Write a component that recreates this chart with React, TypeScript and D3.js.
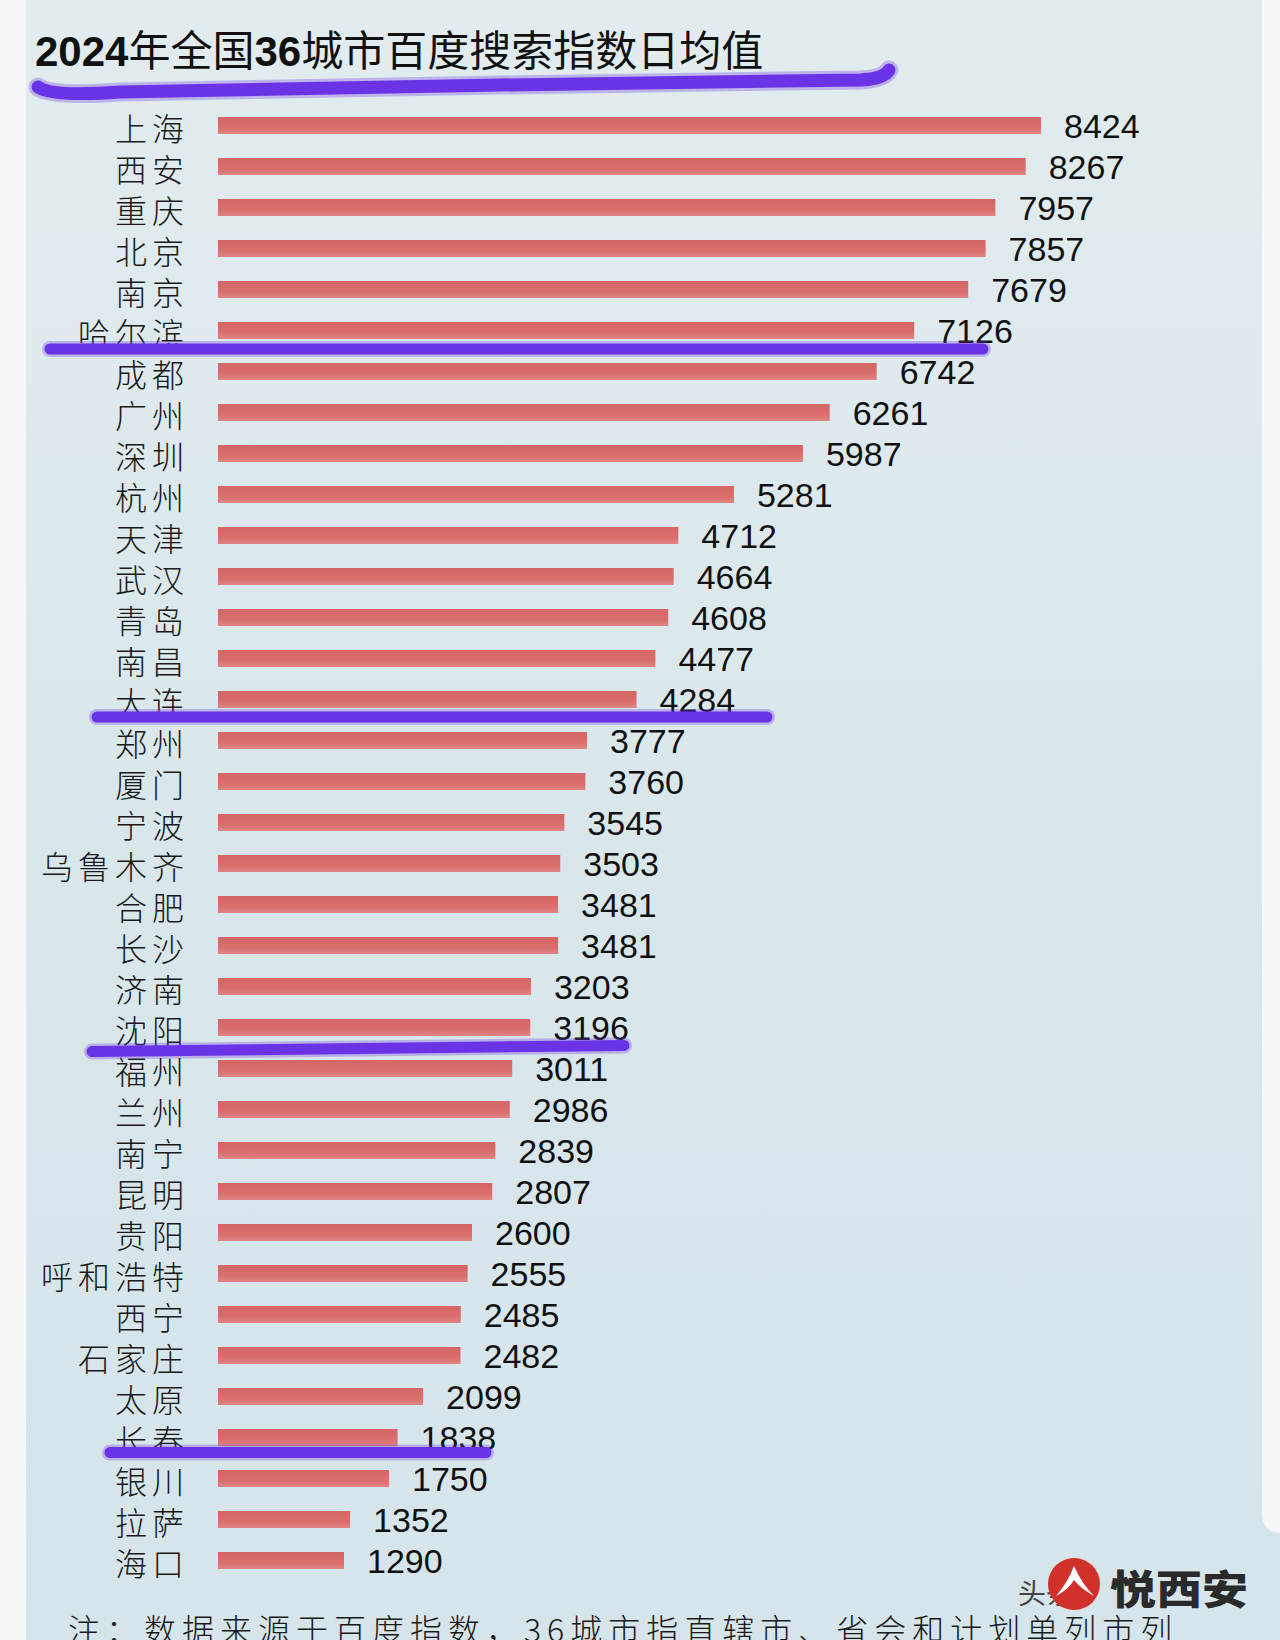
import React from "react";
import * as d3 from "d3";

const cities = ['上海','西安','重庆','北京','南京','哈尔滨','成都','广州','深圳','杭州','天津','武汉','青岛','南昌','大连','郑州','厦门','宁波','乌鲁木齐','合肥','长沙','济南','沈阳','福州','兰州','南宁','昆明','贵阳','呼和浩特','西宁','石家庄','太原','长春','银川','拉萨','海口'];
const values = [8424,8267,7957,7857,7679,7126,6742,6261,5987,5281,4712,4664,4608,4477,4284,3777,3760,3545,3503,3481,3481,3203,3196,3011,2986,2839,2807,2600,2555,2485,2482,2099,1838,1750,1352,1290];

const titleParts = [
  { t: "2024", bold: true },
  { t: "年全国", bold: false },
  { t: "36", bold: true },
  { t: "城市百度搜索指数日均值", bold: false },
];
const footnote = "注：数据来源于百度指数，36城市指直辖市、省会和计划单列市列";

// hand-drawn purple marks below these rows
const marks = [
  { city: "哈尔滨", x0: 50, x1: 983, dy: 18.5 },
  { city: "大连", x0: 97, x1: 767, dy: 17.5 },
  { city: "沈阳", x0: 92, x1: 624, dy: 21 },
  { city: "长春", x0: 110, x1: 486, dy: 15 },
];

const W = 1280;
const H = 1640;

export default function App() {
  const x = d3.scaleLinear().domain([0, 8424]).range([218, 1041]);
  const y = d3.scalePoint<string>().domain(cities).range([125.5, 1560.5]);
  const barH = 17;
  const cjk = '"Noto Sans CJK SC", "Noto Sans", sans-serif';
  const num = '"Liberation Sans", Arial, sans-serif';
  const purple = "#6a33e6";

  return (
    <svg width={W} height={H} style={{ position: "absolute", left: 0, top: 0 }}>
      <defs>
        <linearGradient id="bg" x1="0" y1="0" x2="0" y2="1">
          <stop offset="0" stopColor="#e2ecef" />
          <stop offset="0.5" stopColor="#d9e7eb" />
          <stop offset="1" stopColor="#d6e5ea" />
        </linearGradient>
        <linearGradient id="bar" x1="0" y1="0" x2="0" y2="1">
          <stop offset="0" stopColor="#d46666" />
          <stop offset="0.6" stopColor="#da6c6c" />
          <stop offset="1" stopColor="#e08484" />
        </linearGradient>
      </defs>
      <rect x={0} y={0} width={W} height={H} fill="#f4f8f9" />
      <rect x={26} y={0} width={W - 26} height={H} fill="url(#bg)" />
      <path d={`M1262,0 L${W},0 L${W},1533 L1282,1533 Q1262,1533 1262,1513 Z`} fill="#f6f9fa" />

      {/* title */}
      <text x={35} y={66} fontSize={42} fill="#111" fontFamily={cjk}>
        {titleParts.map((p, i) => (
          <tspan key={i} fontWeight={p.bold ? 700 : 400} fontFamily={p.bold ? num : cjk}>{p.t}</tspan>
        ))}
      </text>
      <path d="M38,87 Q52,97 120,92 L500,85 L860,80 Q884,79 889,70" fill="none" stroke={purple} strokeOpacity={0.3} strokeWidth={19} strokeLinecap="round" />
      <path d="M38,87 Q52,97 120,92 L500,85 L860,80 Q884,79 889,70" fill="none" stroke={purple} strokeWidth={13} strokeLinecap="round" />

      {/* bars */}
      {cities.map((c, i) => {
        const cy = y(c) as number;
        return (
          <g key={c}>
            <rect x={x(0)} y={cy - barH / 2} width={x(values[i]) - x(0)} height={barH} fill="url(#bar)" />
            <text x={189} y={cy + 15} textAnchor="end" fontSize={32} fontWeight={300} letterSpacing={5} fill="#1a1a1a" fontFamily={cjk}>{c}</text>
            <text x={x(values[i]) + 23} y={cy + 12} fontSize={34} fill="#111" fontFamily={num}>{values[i]}</text>
          </g>
        );
      })}

      {/* purple marks */}
      {marks.map((m) => {
        const yy = (y(m.city) as number) + m.dy;
        const d = m.city === "沈阳"
          ? `M${m.x0},${yy + 3} Q${(m.x0 + m.x1) / 2},${yy} ${m.x1},${yy - 3}`
          : `M${m.x0},${yy} L${m.x1},${yy}`;
        return (
          <g key={m.city}>
            <path d={d} fill="none" stroke={purple} strokeOpacity={0.3} strokeWidth={16} strokeLinecap="round" />
            <path d={d} fill="none" stroke={purple} strokeWidth={11} strokeLinecap="round" />
          </g>
        );
      })}

      {/* footnote */}
      <text x={68} y={1642} fontSize={32} fontWeight={300} letterSpacing={6} fill="#1a1a1a" fontFamily={cjk}>{footnote}</text>

      {/* watermark */}
      <text x={1018} y={1604} fontSize={28} fill="#444" fontFamily={cjk}>头条</text>
      <circle cx={1074} cy={1584} r={26} fill="#d2302b" />
      <path d="M1056,1596 Q1068,1582 1074,1566 Q1082,1584 1094,1596 Q1080,1588 1074,1580 Q1068,1590 1056,1596 Z" fill="#fff" />
      <text x={1110} y={1604} fontSize={40} fontWeight={900} fill="#2a2a2a" fontFamily={cjk} textLength={138} lengthAdjust="spacingAndGlyphs">悦西安</text>
    </svg>
  );
}
